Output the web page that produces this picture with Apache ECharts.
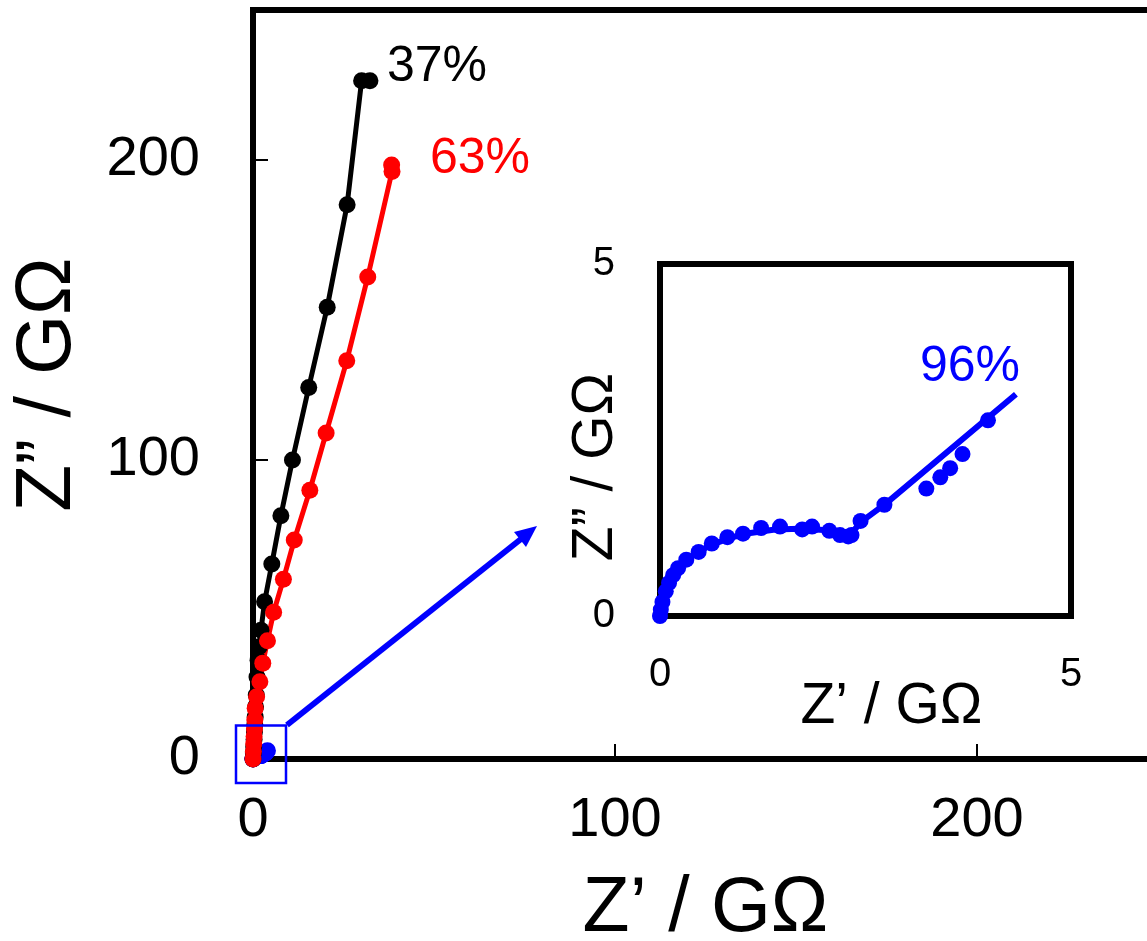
<!DOCTYPE html>
<html>
<head>
<meta charset="utf-8">
<script src="https://cdn.jsdelivr.net/npm/echarts@6/dist/echarts.min.js"></script>
<style>
html, body { margin: 0; padding: 0; background: #fff; }
#chart { width: 1147px; height: 941px; }
</style>
</head>
<body>
<div id="chart"></div>
<script>
// Z' and Z'' (GOhm), from the origin outwards
var re37 = [0, 0.1, 0.2, 0.3, 0.4, 0.5, 0.6, 0.7, 0.9, 1.1, 1.4, 1.7, 2.2, 3.2, 5.2, 7.7, 10.9, 15.4, 20.5, 26.0, 30.0, 32.3];
var im37 = [0, 2, 4, 6.5, 9, 11.5, 14, 17.4, 21.4, 27.4, 33, 37.5, 43, 52.5, 65.1, 81.2, 99.8, 124, 150.8, 185, 226.4, 226.4];

var re63 = [0, 0.1, 0.2, 0.3, 0.4, 0.5, 0.6, 1.0, 1.9, 2.7, 4.0, 5.7, 8.4, 11.4, 15.7, 20.2, 25.9, 31.7, 38.4, 38.3];
var im63 = [0, 2.5, 5, 7.5, 10, 13, 16.9, 20.8, 25.8, 32, 39.5, 49, 60, 73.1, 89.7, 108.8, 132.9, 160.9, 196.1, 198.3];

var re96 = [0, 0.01, 0.03, 0.07, 0.11, 0.16, 0.22, 0.32, 0.47, 0.63, 0.82, 1.01, 1.23, 1.46, 1.73, 1.85, 2.06, 2.19, 2.29, 2.33, 2.44, 2.73, 3.24, 3.41, 3.53, 3.68, 3.99];
var im96 = [0, 0.09, 0.20, 0.35, 0.47, 0.58, 0.68, 0.80, 0.91, 1.03, 1.12, 1.17, 1.25, 1.27, 1.23, 1.27, 1.21, 1.15, 1.13, 1.15, 1.35, 1.58, 1.81, 1.97, 2.10, 2.30, 2.78];

// fitted curve for 96%
var reFit96 = [0, 0.01, 0.04, 0.09, 0.16, 0.25, 0.4, 0.6, 0.85, 1.1, 1.4, 1.7, 2.0, 2.2, 2.33, 2.45, 2.75, 4.33];
var imFit96 = [0, 0.12, 0.3, 0.46, 0.6, 0.72, 0.86, 1.0, 1.11, 1.18, 1.23, 1.24, 1.22, 1.18, 1.18, 1.34, 1.6, 3.15];

var mainTicks = [0, 100, 200];
var insetTicks = [0, 5];

var FONT = '"Liberation Sans", Arial, sans-serif';

function pairs(xs, ys) {
    return xs.map(function (x, i) { return [x, ys[i]]; });
}

var chart = echarts.init(document.getElementById('chart'));

function axis(opt) {
    return {
        type: 'value',
        gridIndex: opt.grid,
        min: opt.ticks[0],
        max: opt.max,
        interval: opt.ticks[1] - opt.ticks[0],
        name: opt.name,
        nameLocation: 'middle',
        nameGap: opt.nameGap,
        nameMoveOverlap: false,
        nameTextStyle: { fontSize: opt.nameSize, color: '#000', fontFamily: FONT, padding: opt.namePad || 0 },
        axisLine: { show: false },
        axisTick: { show: opt.tick, inside: true, length: 15, lineStyle: { color: '#000', width: 2 } },
        axisLabel: { fontSize: opt.labelSize, color: '#000', fontFamily: FONT, margin: opt.margin, showMaxLabel: opt.showMax },
        splitLine: { show: false }
    };
}

var option = {
    animation: false,
    backgroundColor: '#fff',
    grid: [
        { left: 253, top: 10, width: 905, height: 749, outerBoundsMode: 'none', containLabel: false,
          show: true, borderColor: '#000', borderWidth: 6 },
        { left: 660, top: 264, width: 411, height: 352, outerBoundsMode: 'none', containLabel: false,
          show: true, borderColor: '#000', borderWidth: 6 }
    ],
    xAxis: [
        axis({ grid: 0, ticks: mainTicks, max: 250, name: 'Z’ / GΩ', nameGap: 112, nameSize: 77, tick: true, labelSize: 56, margin: 34, showMax: false }),
        axis({ grid: 1, ticks: insetTicks, max: 5, name: 'Z’ / GΩ', nameGap: 63, nameSize: 57, namePad: [0, 0, 0, 52], tick: false, labelSize: 40, margin: 39, showMax: true })
    ],
    yAxis: [
        axis({ grid: 0, ticks: mainTicks, max: 250, name: 'Z” / GΩ', nameGap: 166, nameSize: 77, tick: true, labelSize: 56, margin: 53, showMax: false }),
        axis({ grid: 1, ticks: insetTicks, max: 5, name: 'Z” / GΩ', nameGap: 35, nameSize: 57, namePad: [0, 54, 0, 0], tick: false, labelSize: 40, margin: 45, showMax: true })
    ],
    series: [
        {
            name: '37%', type: 'line', xAxisIndex: 0, yAxisIndex: 0, clip: false,
            data: pairs(re37, im37), symbol: 'circle', symbolSize: 17,
            itemStyle: { color: '#000' }, lineStyle: { color: '#000', width: 5 }
        },
        {
            name: '63%', type: 'line', xAxisIndex: 0, yAxisIndex: 0, clip: false,
            data: pairs(re63, im63), symbol: 'circle', symbolSize: 17,
            itemStyle: { color: '#ff0000' }, lineStyle: { color: '#ff0000', width: 5 }
        },
        {
            name: '96% fit', type: 'line', xAxisIndex: 0, yAxisIndex: 0, clip: false,
            data: pairs(reFit96, imFit96), symbol: 'none',
            lineStyle: { color: '#0000ff', width: 5 }
        },
        {
            name: '96%', type: 'scatter', xAxisIndex: 0, yAxisIndex: 0, clip: false,
            data: pairs(re96, im96), symbol: 'circle', symbolSize: 17,
            itemStyle: { color: '#0000ff', opacity: 1 }
        },
        {
            name: '96% fit inset', type: 'line', xAxisIndex: 1, yAxisIndex: 1, clip: false,
            data: pairs(reFit96, imFit96), symbol: 'none',
            lineStyle: { color: '#0000ff', width: 6 }
        },
        {
            name: '96% inset', type: 'scatter', xAxisIndex: 1, yAxisIndex: 1, clip: false,
            data: pairs(re96, im96), symbol: 'circle', symbolSize: 16,
            itemStyle: { color: '#0000ff', opacity: 1 }
        }
    ],
    graphic: [
        { type: 'text', x: 387, y: 67, style: { text: '37%', fill: '#000', font: '50px ' + FONT, align: 'left', verticalAlign: 'middle' } },
        { type: 'text', x: 430, y: 159, style: { text: '63%', fill: '#ff0000', font: '50px ' + FONT, align: 'left', verticalAlign: 'middle' } },
        { type: 'text', x: 920, y: 367, style: { text: '96%', fill: '#0000ff', font: '50px ' + FONT, align: 'left', verticalAlign: 'middle' } },
        // zoom box and arrow
        { type: 'rect', shape: { x: 236, y: 725.5, width: 50, height: 57.5 }, style: { fill: 'none', stroke: '#0000ff', lineWidth: 2.5 }, z: 10 },
        { type: 'line', shape: { x1: 287, y1: 725, x2: 521, y2: 539 }, style: { stroke: '#0000ff', lineWidth: 6 }, z: 10 },
        { type: 'polygon', shape: { points: [[537, 526], [526, 547], [514, 532]] }, style: { fill: '#0000ff' }, z: 10 }
    ]
};

chart.setOption(option);
</script>
</body>
</html>
